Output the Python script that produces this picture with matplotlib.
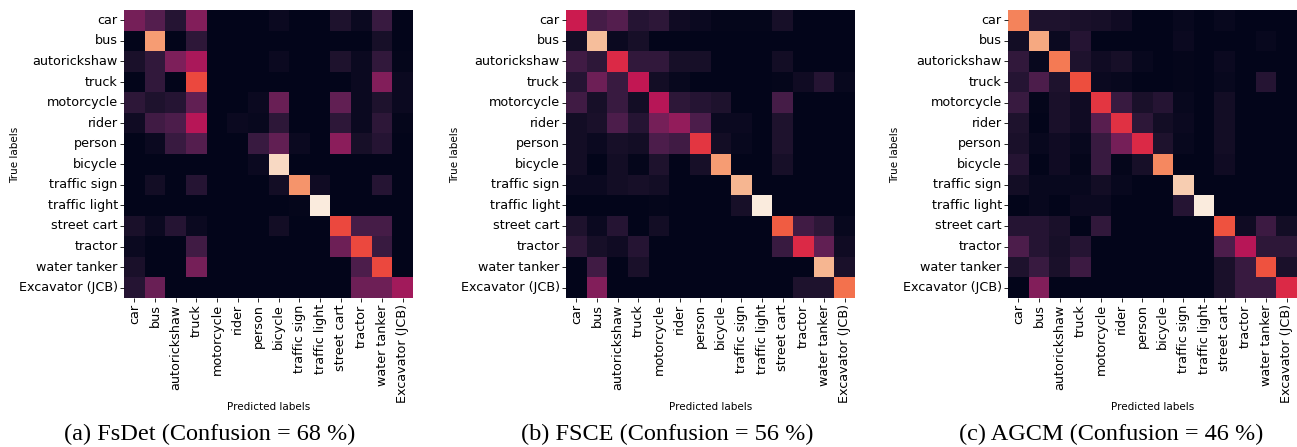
import matplotlib
matplotlib.use("Agg")
import matplotlib.pyplot as plt
import seaborn as sns
import numpy as np

classes = ["car", "bus", "autorickshaw", "truck", "motorcycle", "rider", "person",
           "bicycle", "traffic sign", "traffic light", "street cart", "tractor",
           "water tanker", "Excavator (JCB)"]

captions = ["(a) FsDet (Confusion = 68 %)",
            "(b) FSCE (Confusion = 56 %)",
            "(c) AGCM (Confusion = 46 %)"]

fsdet = [
    [0.30, 0.22, 0.10, 0.33, 0, 0, 0, 0.03, 0, 0, 0.08, 0.03, 0.15, 0],
    [0, 0.80, 0, 0.12, 0, 0, 0, 0, 0, 0, 0, 0, 0.06, 0],
    [0.07, 0.13, 0.32, 0.42, 0, 0, 0, 0.03, 0, 0, 0.08, 0.03, 0.13, 0.01],
    [0, 0.13, 0, 0.62, 0, 0, 0, 0, 0, 0, 0, 0.03, 0.33, 0.03],
    [0.12, 0.08, 0.10, 0.25, 0, 0, 0.03, 0.27, 0, 0, 0.25, 0.03, 0.08, 0.03],
    [0.04, 0.17, 0.20, 0.45, 0, 0.03, 0.02, 0.12, 0, 0, 0.12, 0.03, 0.12, 0.01],
    [0, 0.03, 0.15, 0.22, 0, 0, 0.15, 0.25, 0.03, 0, 0.35, 0.06, 0.10, 0],
    [0, 0, 0, 0, 0, 0, 0.03, 0.95, 0, 0, 0, 0, 0, 0],
    [0, 0.05, 0, 0.10, 0, 0, 0, 0.05, 0.78, 0.04, 0, 0, 0.10, 0],
    [0, 0, 0, 0, 0, 0, 0, 0, 0.01, 1.00, 0, 0, 0, 0],
    [0.07, 0.03, 0.10, 0.03, 0, 0, 0, 0.05, 0, 0, 0.62, 0.18, 0.18, 0],
    [0.03, 0, 0, 0.17, 0, 0, 0, 0, 0, 0, 0.28, 0.62, 0.15, 0],
    [0.07, 0, 0, 0.30, 0, 0, 0, 0, 0, 0, 0, 0.20, 0.62, 0],
    [0.10, 0.27, 0, 0, 0, 0, 0, 0, 0, 0, 0, 0.28, 0.28, 0.40],
]

fsce = [
    [0.50, 0.18, 0.22, 0.10, 0.12, 0.04, 0.03, 0.01, 0.01, 0.01, 0.06, 0, 0, 0],
    [0.05, 0.88, 0.03, 0.06, 0, 0, 0, 0, 0, 0, 0, 0, 0, 0],
    [0.17, 0.12, 0.55, 0.13, 0.13, 0.06, 0.06, 0, 0, 0, 0.05, 0, 0, 0],
    [0.10, 0.28, 0.15, 0.48, 0.05, 0.02, 0, 0, 0, 0, 0.01, 0.04, 0.10, 0.02],
    [0.17, 0.06, 0.15, 0.05, 0.45, 0.12, 0.10, 0.08, 0, 0, 0.18, 0, 0, 0],
    [0.05, 0.07, 0.20, 0.10, 0.30, 0.37, 0.20, 0.03, 0.03, 0, 0.08, 0, 0, 0],
    [0.05, 0.03, 0.06, 0.05, 0.20, 0.17, 0.58, 0.05, 0.02, 0, 0.08, 0, 0, 0],
    [0.05, 0, 0.05, 0.01, 0.08, 0, 0.06, 0.80, 0, 0, 0.06, 0, 0, 0],
    [0.03, 0.03, 0.05, 0.06, 0.05, 0, 0, 0, 0.86, 0, 0, 0, 0, 0],
    [0, 0, 0, 0, 0.01, 0, 0, 0, 0.06, 1.00, 0, 0, 0, 0],
    [0.08, 0.03, 0.10, 0, 0.05, 0, 0, 0, 0, 0, 0.66, 0.17, 0.12, 0.02],
    [0.12, 0.06, 0.04, 0.10, 0, 0, 0, 0, 0, 0, 0.15, 0.55, 0.25, 0.04],
    [0, 0.17, 0, 0.07, 0, 0, 0, 0, 0, 0, 0, 0, 0.86, 0.07],
    [0, 0.33, 0, 0, 0, 0, 0, 0, 0, 0, 0, 0.08, 0.08, 0.70],
]

agcm = [
    [0.74, 0.08, 0.08, 0.07, 0.06, 0.04, 0, 0, 0.02, 0, 0.02, 0, 0, 0],
    [0.05, 0.83, 0.03, 0.10, 0, 0, 0, 0, 0.03, 0, 0, 0, 0.02, 0],
    [0.13, 0.02, 0.72, 0.08, 0.04, 0.06, 0.02, 0, 0.01, 0, 0.03, 0, 0, 0],
    [0.10, 0.20, 0.08, 0.63, 0.03, 0.02, 0, 0, 0.01, 0, 0.02, 0, 0.10, 0],
    [0.15, 0.01, 0.07, 0.04, 0.58, 0.15, 0.07, 0.10, 0.02, 0, 0.05, 0, 0, 0],
    [0.08, 0, 0.07, 0.04, 0.23, 0.57, 0.12, 0.05, 0.03, 0, 0.05, 0, 0, 0],
    [0.07, 0.02, 0.04, 0.02, 0.15, 0.30, 0.55, 0.08, 0.02, 0, 0.05, 0, 0, 0],
    [0.10, 0, 0.04, 0.01, 0.15, 0.01, 0.06, 0.75, 0, 0, 0.04, 0, 0, 0],
    [0.05, 0.02, 0.02, 0.02, 0.05, 0.02, 0, 0, 0.92, 0, 0, 0, 0, 0],
    [0, 0.02, 0, 0.03, 0.03, 0, 0, 0, 0.10, 1.00, 0, 0, 0, 0],
    [0.10, 0.10, 0.07, 0, 0.13, 0, 0, 0, 0, 0, 0.64, 0.04, 0.16, 0.05],
    [0.20, 0.10, 0.06, 0.10, 0, 0, 0, 0, 0, 0, 0.20, 0.45, 0.12, 0.12],
    [0.08, 0.15, 0.07, 0.16, 0, 0, 0, 0, 0, 0, 0.07, 0.15, 0.64, 0.07],
    [0, 0.33, 0, 0, 0, 0, 0, 0, 0, 0, 0.07, 0.15, 0.15, 0.55],
]

matrices = [fsdet, fsce, agcm]

W, H = 1297, 447
fig = plt.figure(figsize=(W / 100, H / 100), dpi=100)

lefts = [124, 566, 1008]
ax_w = 289
ax_top = 10
ax_bot = 298
ylab_x = [15, 455, 895]
cap_x = [210, 667, 1111]

for i, m in enumerate(matrices):
    ax = fig.add_axes([lefts[i] / W, 1 - ax_bot / H, ax_w / W, (ax_bot - ax_top) / H])
    sns.heatmap(np.array(m), ax=ax, cmap="rocket", vmin=0, vmax=1, cbar=False,
                xticklabels=classes, yticklabels=classes, square=False)
    ax.tick_params(axis="both", labelsize=9.2, length=3, width=0.6, pad=1.5)
    ax.set_xticklabels(classes, rotation=90)
    ax.set_yticklabels(classes, rotation=0)
    ax.set_xlabel("")
    ax.set_ylabel("")
    fig.text((lefts[i] + ax_w / 2) / W, 1 - 407 / H, "Predicted labels",
             ha="center", va="center", fontsize=7.5)
    fig.text(ylab_x[i] / W, 1 - 155 / H, "True labels", rotation=90,
             ha="center", va="center", fontsize=7.5)
    fig.text(cap_x[i] / W, 1 - 434 / H, captions[i], ha="center", va="center",
             fontsize=17.5, family="Liberation Serif")

fig.savefig("out.png", dpi=100)
